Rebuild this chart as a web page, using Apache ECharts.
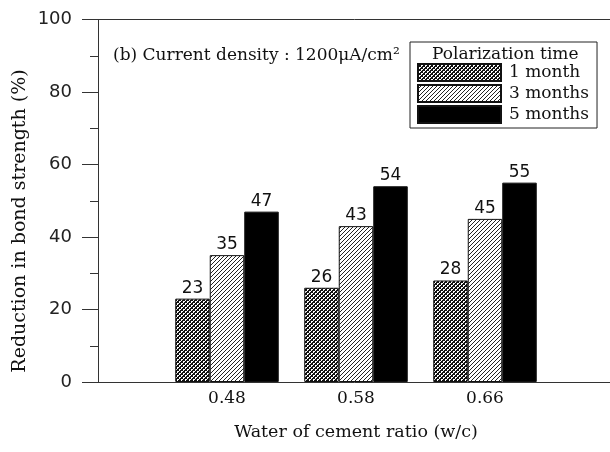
<!DOCTYPE html>
<html><head><meta charset="utf-8">
<script src="https://cdn.jsdelivr.net/npm/echarts@6/dist/echarts.min.js"></script>
<style>html,body{margin:0;padding:0;background:#fff}#c{width:610px;height:452px}</style>
</head><body><div id="c"></div>
<script>
var categories = ['', '0.48', '0.58', '0.66', ''];
var oneMonth = ['-', 23, 26, 28, '-'];
var threeMonths = ['-', 35, 43, 45, '-'];
var fiveMonths = ['-', 47, 54, 55, '-'];
var seriesNames = ['1 month', '3 months', '5 months'];
var yTitle = 'Reduction in bond strength (%)';

function makeCross() {
  var c = document.createElement('canvas'); c.width = 4; c.height = 4;
  var g = c.getContext('2d'); g.fillStyle = '#fff'; g.fillRect(0,0,4,4);
  g.fillStyle = '#111';
  for (var i = 0; i < 4; i++) { g.fillRect(i, i, 1, 1); g.fillRect(i, 3 - i, 1, 1); }
  g.fillRect(0,2,1,1); g.fillRect(2,0,1,1);
  return c;
}
function makeHatch() {
  var c = document.createElement('canvas'); c.width = 4; c.height = 4;
  var g = c.getContext('2d'); g.fillStyle = '#fff'; g.fillRect(0,0,4,4);
  g.fillStyle = '#222';
  for (var i = 0; i < 4; i++) { g.fillRect(i, 3 - i, 1, 1); }
  return c;
}
var crossPat = { image: makeCross(), repeat: 'repeat' };
var hatchPat = { image: makeHatch(), repeat: 'repeat' };

var chart = echarts.init(document.getElementById('c'));
var wide = '"DejaVu Serif", serif';
var sans = '"DejaVu Sans", sans-serif';
var lbl = { show: true, position: 'top', distance: 2, color: '#111', fontFamily: sans, fontSize: 17 };
function mk(name, data, color) {
  return { name: name, type: 'bar', data: data, barWidth: 34.5, barGap: '0%',
    itemStyle: { color: color, borderColor: '#111', borderWidth: 1 }, label: lbl };
}
chart.setOption({
  animation: false,
  title: [
    { text: '(b) Current density : 1200\u03bcA/cm\u00b2', left: 108, top: 42,
      textStyle: { fontFamily: wide, fontSize: 17, fontWeight: 'normal', color: '#111' } },
    { text: 'Polarization time', left: 427, top: 41,
      textStyle: { fontFamily: wide, fontSize: 17, fontWeight: 'normal', color: '#111' } }
  ],
  graphic: [{
    type: 'text', x: 20, y: 221, rotation: Math.PI / 2,
    style: { text: yTitle, fontFamily: wide, fontSize: 19, fill: '#111', align: 'center', verticalAlign: 'middle' }
  }],
  legend: {
    orient: 'vertical', left: 410, top: 42, data: seriesNames,
    itemWidth: 83, itemHeight: 17, itemGap: 2,
    padding: [21, 8, 4, 7], borderColor: '#222', borderWidth: 1,
    icon: 'rect',
    textStyle: { fontFamily: wide, fontSize: 17, lineHeight: 17, color: '#111', padding: [0,0,0,3] }
  },
  grid: { left: 98, right: -4, top: 19.5, bottom: 70, show: false, outerBoundsMode: 'none' },
  xAxis: [{
    type: 'category', data: categories, boundaryGap: false,
    axisLine: { lineStyle: { color: '#333' } }, axisTick: { show: false },
    axisLabel: { fontFamily: wide, fontSize: 17, color: '#111', margin: 8, interval: 0 },
    name: 'Water of cement ratio (w/c)', nameLocation: 'middle', nameGap: 41,
    nameTextStyle: { fontFamily: wide, fontSize: 17.5, color: '#111' }
  }, {
    type: 'category', data: categories, boundaryGap: false, position: 'top',
    axisLine: { show: true, lineStyle: { color: '#333' } }, axisTick: { show: false },
    axisLabel: { show: false }
  }],
  yAxis: {
    type: 'value', min: 0, max: 100, interval: 20,
    splitLine: { show: false },
    axisLine: { show: true, lineStyle: { color: '#333' } },
    axisTick: { show: true, inside: false, length: 16, lineStyle: { color: '#333' } },
    minorTick: { show: true, splitNumber: 2, length: 8, lineStyle: { color: '#333' } },
    axisLabel: { fontFamily: sans, fontSize: 18, color: '#222', margin: 26 }
  },
  series: [ mk(seriesNames[0], oneMonth, crossPat), mk(seriesNames[1], threeMonths, hatchPat), mk(seriesNames[2], fiveMonths, '#000') ]
});
</script></body></html>
